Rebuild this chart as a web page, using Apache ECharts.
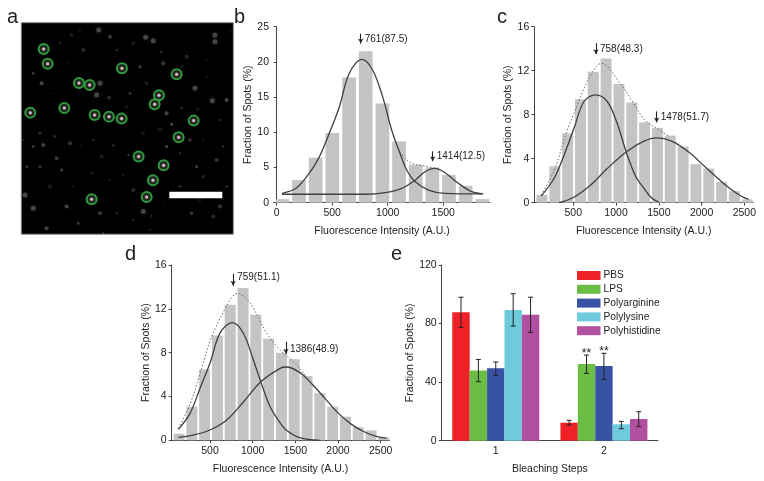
<!DOCTYPE html>
<html><head><meta charset="utf-8">
<style>html,body{margin:0;background:#fff}#c{width:764px;height:481px;filter:blur(.45px)}</style>
<script src="https://cdn.jsdelivr.net/npm/echarts@6/dist/echarts.min.js"></script>
</head><body><div id="c"></div>
<script>
// ---------- panel a ----------
const ringSpots=[[131,147],[143,191],[366,205],[237,249],[269,255],[530,223],[477,286],[464,313],[91,338],[193,324],[284,345],[327,350],[365,356],[581,362],[536,412],[416,470],[491,496],[459,541],[440,591],[275,598]];
const blotchSpots=[[437,112],[460,122],[75,585],[100,625],[430,635],[300,250],[290,285],[645,105],[645,125],[637,302],[585,265],[296,90]];
const faintSpots=[[690,90],[483,155],[490,190],[545,325],[592,328],[327,293],[380,320],[515,373],[480,388],[610,422],[100,440],[130,435],[243,438],[340,437],[170,475],[385,465],[370,525],[400,570],[455,648],[575,640],[215,105],[240,90],[100,220],[125,250],[205,190],[165,410],[330,110],[350,150],[545,200],[560,170],[275,520],[185,510],[150,560],[220,560],[235,670],[140,685],[520,680],[610,530],[650,480],[670,440],[600,600],[640,650],[540,460],[500,440],[305,470],[70,420],[80,500],[680,300],[620,180],[400,130],[300,640],[350,640],[400,660],[250,150],[180,130],[420,200],[440,250],[620,230],[390,280],[500,340],[160,280],[120,400],[210,430],[280,420],[430,400],[570,420],[660,360],[590,500],[540,560],[330,540],[120,500],[200,620],[490,610],[680,560],[660,620],[310,700],[450,690]];
const scaleBarPts=[[508,585],[667,585]];
// ---------- panel b ----------
const binsB=[54,201,351,501,652,802,952,1102,1252,1402,1552,1702,1852];
const fracB=[0.5,3.2,6.4,9.9,17.8,21.5,14.1,8.7,5.4,5.0,3.95,2.4,0.5];
const comp1B=[[48,1.33],[174,2.04],[294,4.2],[384,6.5],[474,9.86],[564,13.6],[654,18.4],[768,20.37],[864,18.85],[954,15.06],[1036,10.3],[1111,7.0],[1171,4.65],[1246,3.0],[1366,1.8],[1516,1.33],[1847,1.24]];
const comp2B=[[48,1.2],[400,1.2],[800,1.2],[976,1.42],[1126,2.04],[1246,3.2],[1336,4.4],[1426,4.88],[1516,4.26],[1636,2.75],[1757,1.56],[1861,1.24]];
const sumB=[[1111,7.2],[1156,6.3],[1216,5.6],[1336,5.2],[1426,4.9]];
// ---------- panel c ----------
const binsC=[134,284,434,584,734,884,1034,1184,1334,1484,1634,1784,1934,2084,2234,2384,2534];
const fracC=[0.7,3.3,6.3,9.4,11.9,13.1,10.8,9.1,7.3,6.8,6.1,5.1,3.5,3.1,1.9,1.05,0.3];
const comp1C=[[125,0.6],[274,2.2],[391,4.3],[508,6.76],[625,9.2],[761,9.8],[897,9.2],[1014,7.2],[1119,4.6],[1229,2.4],[1327,1.3],[1420,0.4],[1500,0.05]];
const comp2C=[[332,0],[508,0.5],[703,1.6],[897,3.1],[1119,4.6],[1327,5.6],[1478,5.9],[1650,5.6],[1850,4.6],[2050,3.2],[2250,1.8],[2450,0.65],[2550,0.3]];
const sumC=[[125,0.7],[274,2.9],[429,6.6],[508,8.1],[663,11],[831,12.67],[1034,11],[1209,9.0],[1327,7.6],[1473,6.75],[1630,6.0]];
// ---------- panel d ----------
const binsD=[137,287,437,587,737,887,1037,1187,1337,1487,1637,1787,1937,2087,2237,2387,2537];
const fracD=[0.6,3.07,6.47,9.57,12.37,13.9,11.46,9.27,8.0,7.4,5.87,4.3,3.07,2.15,1.2,0.9,0.25];
const comp1D=[[129,1.0],[266,2.46],[383,4.75],[500,7.05],[618,9.8],[762,10.74],[891,9.77],[1008,7.33],[1095,5.35],[1204,3.07],[1321,1.6],[1400,0.9],[1550,0.25],[1790,0]];
const comp2D=[[129,0.27],[305,0.48],[500,0.94],[696,1.85],[891,3.5],[1095,5.35],[1321,6.57],[1387,6.69],[1550,6.2],[1700,5.1],[1850,3.8],[2000,2.5],[2150,1.5],[2300,0.8],[2450,0.35],[2570,0.2]];
const sumD=[[129,1.1],[266,3.3],[383,6.1],[520,9.46],[735,12.8],[820,13.4],[958,12.66],[1165,9.77],[1321,8.25],[1500,7.0],[1620,5.9]];
// ---------- annotations: [x, y, text, arrow top y, arrow bottom y] ----------
const notesB=[[757,23.2,'761(87.5)',24,22.6],[1405,6.55,'1414(12.5)',7.3,5.9]];
const notesC=[[765,13.95,'758(48.3)',14.5,13.5],[1475,7.75,'1478(51.7)',8.3,7.3]];
const notesD=[[771,14.9,'759(51.1)',15.2,14.1],[1390,8.35,'1386(48.9)',9,7.9]];
// ---------- panel e ----------
const stepCats=['1','2'];
const treatNames=['PBS','LPS','Polyarginine','Polylysine','Polyhistidine'];
const treatColors=['#ee2226','#6cbd45','#3953a4','#6dcbdc','#b14fa0'];
const meanPBS=[87.7,12.3], meanLPS=[48,52.4], meanArg=[49.4,51], meanLys=[89.3,11.2], meanHis=[86,14.8];
const lowPBS=[77.4,10.7], lowLPS=[40.3,46], lowArg=[44.6,41.9], lowLys=[78.3,8.2], lowHis=[74,9.6];
const highPBS=[98,13.9], highLPS=[55.5,58.5], highArg=[53.7,59.7], highLys=[100.4,13.2], highHis=[98,19.8];
const sigMarks=[[1,1,'**'],[1,2,'**']];

const TXT='#222', AX='#444', FF='"Liberation Sans",Arial,sans-serif', FS=10.5;
const means=[meanPBS,meanLPS,meanArg,meanLys,meanHis], lows=[lowPBS,lowLPS,lowArg,lowLys,lowHis], highs=[highPBS,highLPS,highArg,highLys,highHis];

const grids=[
 {left:21.3,top:22.7,width:212,height:211.5,show:true,backgroundColor:'#000',borderColor:'#888',borderWidth:1},
 {left:274,top:26.7,width:216,height:176},
 {left:534.3,top:26.7,width:219,height:176},
 {left:171.7,top:265,width:217.6,height:175.3},
 {left:441.7,top:265,width:216.3,height:175.7}];

function xVal(i,min,max,ticks){return {type:'value',gridIndex:i,min,max,name:'Fluorescence Intensity (A.U.)',nameLocation:'middle',nameGap:23,
 nameTextStyle:{color:TXT,fontSize:FS,fontFamily:FF},splitLine:{show:false},
 axisLine:{onZero:false,lineStyle:{color:AX,width:1}},axisTick:{length:3,customValues:ticks,lineStyle:{color:AX}},
 axisLabel:{customValues:ticks,formatter:v=>String(v),margin:5,color:TXT,fontSize:FS,fontFamily:FF}};}
function yVal(i,max,interval,gap){return {type:'value',gridIndex:i,min:0,max,interval,name:'Fraction of Spots (%)',nameLocation:'middle',nameGap:gap,
 nameTextStyle:{color:TXT,fontSize:FS,fontFamily:FF},splitLine:{show:false},
 axisLine:{show:true,lineStyle:{color:AX,width:1}},axisTick:{show:true,length:3,lineStyle:{color:AX}},
 axisLabel:{margin:5,color:TXT,fontSize:FS,fontFamily:FF}};}

const xAxes=[{type:'value',gridIndex:0,min:64,max:700,show:false},
 xVal(1,-24,1921,[0,500,1000,1500]),xVal(2,44,2605,[500,1000,1500,2000,2500]),xVal(3,51,2601,[500,1000,1500,2000,2500]),
 {type:'category',gridIndex:4,data:stepCats,name:'Bleaching Steps',nameLocation:'middle',nameGap:23,nameTextStyle:{color:TXT,fontSize:FS,fontFamily:FF},
  axisLine:{lineStyle:{color:AX}},axisTick:{alignWithLabel:true,length:3,interval:0,customValues:[0,1],lineStyle:{color:AX}},axisLabel:{margin:5,color:TXT,fontSize:FS,fontFamily:FF}}];
const yAxes=[{type:'value',gridIndex:0,min:68,max:703,inverse:true,show:false},
 yVal(1,25,5,20),yVal(2,16,4,18),yVal(3,16,4,18),yVal(4,120,40,24)];

const series=[];
// panel a
series.push({type:'scatter',xAxisIndex:0,yAxisIndex:0,data:faintSpots,symbolSize:(v,p)=>2+p.dataIndex%3,silent:true,
 itemStyle:{color:p=>'rgba(190,190,190,'+(.14+.08*(p.dataIndex%4))+')',shadowBlur:2,shadowColor:'rgba(190,190,190,.3)'}});
series.push({type:'scatter',xAxisIndex:0,yAxisIndex:0,data:blotchSpots,symbolSize:5,silent:true,
 itemStyle:{color:'rgba(190,190,190,.4)',shadowBlur:4,shadowColor:'rgba(190,190,190,.5)'}});
series.push({type:'scatter',xAxisIndex:0,yAxisIndex:0,data:ringSpots,symbolSize:10,silent:true,
 itemStyle:{opacity:1,color:'rgba(90,100,90,.35)',borderColor:'#2f9c3e',borderWidth:2}});
series.push({type:'scatter',xAxisIndex:0,yAxisIndex:0,data:ringSpots,symbolSize:3,silent:true,
 itemStyle:{color:'#e0e0e0',shadowBlur:2,shadowColor:'#d89'}});
series.push({type:'line',xAxisIndex:0,yAxisIndex:0,data:scaleBarPts,symbol:'none',silent:true,lineStyle:{color:'#fff',width:6.5,cap:'butt'}});

function hist(i,bins,frac,w,c1,c2,sum,notes){
 series.push({type:'bar',xAxisIndex:i,yAxisIndex:i,data:bins.map((x,k)=>[x,frac[k]]),barWidth:w,itemStyle:{color:'#c4c4c4'}});
 for(const c of [c1,c2])series.push({type:'line',xAxisIndex:i,yAxisIndex:i,data:c,smooth:.35,symbol:'none',lineStyle:{color:'#3f3f3f',width:1.3}});
 series.push({type:'line',xAxisIndex:i,yAxisIndex:i,data:sum,smooth:.35,symbol:'none',lineStyle:{color:'#666',width:1,type:[1.5,2]}});
 series.push({type:'scatter',xAxisIndex:i,yAxisIndex:i,data:notes.map(n=>({value:[n[0],n[1]],label:{formatter:n[2]}})),symbolSize:0,itemStyle:{opacity:1},
  label:{show:true,position:'right',distance:4,color:TXT,fontSize:10,fontFamily:FF},
  markLine:{silent:true,animation:false,symbol:['none','arrow'],symbolSize:[4,5],label:{show:false},lineStyle:{color:'#222',width:1.1,type:'solid'},
   data:notes.map(n=>[{coord:[n[0],n[3]]},{coord:[n[0],n[4]]}])}});
}
hist(1,binsB,fracB,13.7,comp1B,comp2B,sumB,notesB);
hist(2,binsC,fracC,11,comp1C,comp2C,sumC,notesC);
hist(3,binsD,fracD,11,comp1D,comp2D,sumD,notesD);

// panel e
const BW=17.4;
treatNames.forEach((n,i)=>series.push({type:'bar',name:n,xAxisIndex:4,yAxisIndex:4,data:means[i],barWidth:BW,barGap:'0%',itemStyle:{color:treatColors[i]}}));
series.push({type:'custom',xAxisIndex:4,yAxisIndex:4,silent:true,z:5,
 data:treatNames.flatMap((n,i)=>stepCats.map((c,k)=>[k,lows[i][k],highs[i][k],i])),encode:{x:0,y:[1,2]},
 renderItem(p,api){
  const k=api.value(0),i=api.value(3),lo=api.coord([k,api.value(1)]),hi=api.coord([k,api.value(2)]),x=lo[0]+(i-2)*BW,cap=2.5;
  const st={stroke:'#222',lineWidth:1,fill:null};
  const ch=[[x,lo[1],x,hi[1]],[x-cap,lo[1],x+cap,lo[1]],[x-cap,hi[1],x+cap,hi[1]]].map(s=>({type:'line',shape:{x1:s[0],y1:s[1],x2:s[2],y2:s[3]},style:st}));
  const m=sigMarks.find(s=>s[0]===k&&s[1]===i);
  if(m)ch.push({type:'text',style:{text:m[2],x,y:hi[1]+4.5,align:'center',verticalAlign:'bottom',fill:'#222',fontSize:12,fontFamily:FF}});
  return {type:'group',children:ch};
 }});

const letter=(text,x,y)=>({type:'text',left:x,top:y,style:{text,fill:'#222',fontSize:20,fontFamily:FF}});
const chart=echarts.init(document.getElementById('c'),null,{renderer:'canvas'});
chart.setOption({animation:false,backgroundColor:'#fff',grid:grids,xAxis:xAxes,yAxis:yAxes,series,
 legend:{data:treatNames,orient:'vertical',left:577,top:270.5,itemWidth:23.5,itemHeight:9,itemGap:3.8,selectedMode:false,icon:'rect',
  textStyle:{color:TXT,fontSize:10.2,fontFamily:FF,padding:[0,0,0,-2]},padding:0},
 graphic:[letter('a',7,7),letter('b',234,7),letter('c',497,7),letter('d',125,244),letter('e',391,244)]});
</script></body></html>
